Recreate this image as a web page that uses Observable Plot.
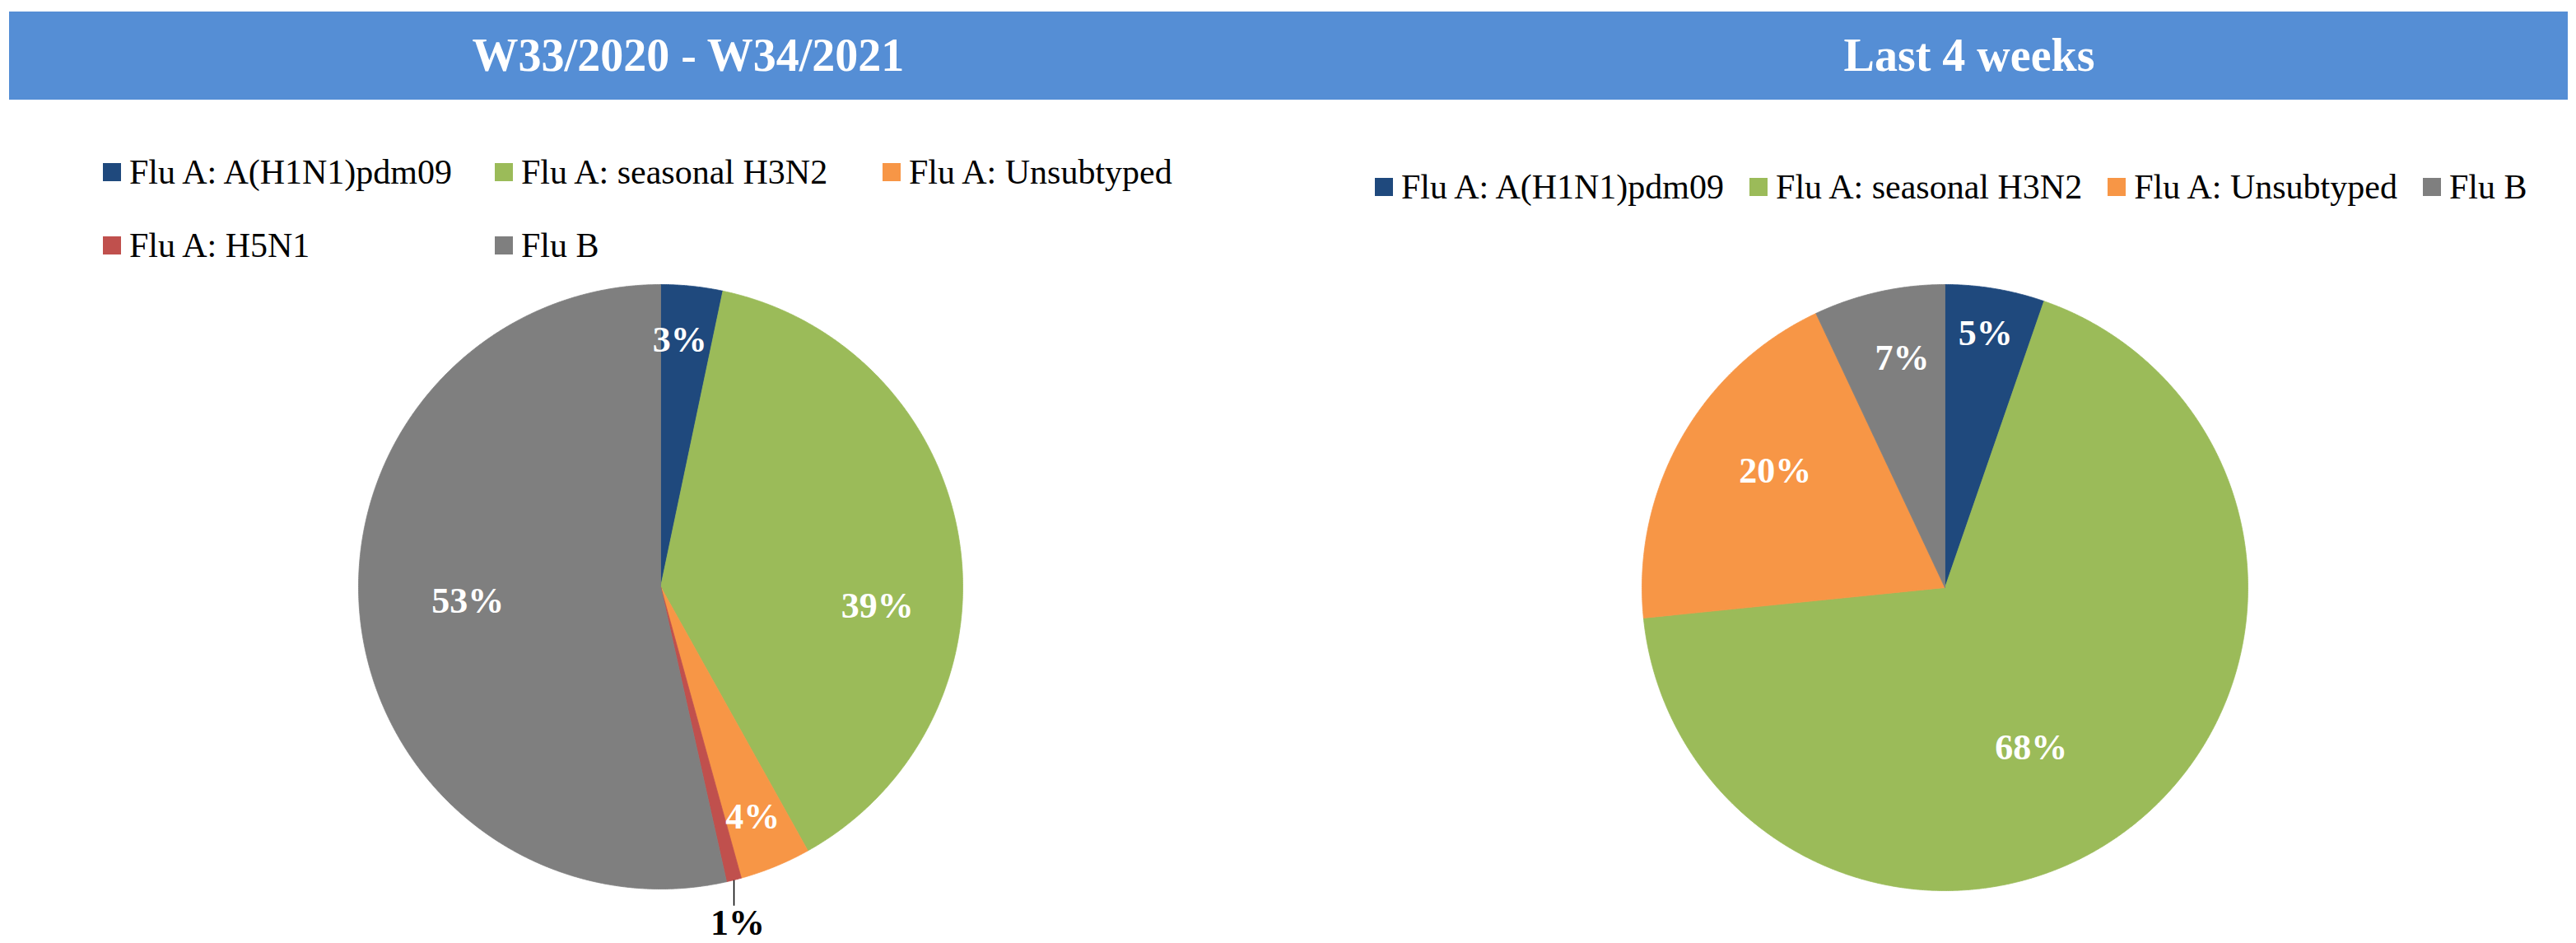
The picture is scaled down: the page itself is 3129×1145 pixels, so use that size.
<!DOCTYPE html>
<html>
<head>
<meta charset="utf-8">
<script src="https://cdn.jsdelivr.net/npm/d3@7"></script>
<script src="https://cdn.jsdelivr.net/npm/@observablehq/plot@0.6"></script>
<style>
  html, body { margin: 0; padding: 0; background: #ffffff; }
  #page { position: relative; width: 3129px; height: 1145px; overflow: hidden; background: #fff;
          font-family: "Liberation Serif", "Times New Roman", serif; }
  .header { position: absolute; left: 11px; top: 14px; width: 3108px; height: 107px; background: #558ED5; }
  .title { position: absolute; top: 39px; height: 56px; line-height: 56px; font-size: 56px; font-weight: bold;
           color: #fff; white-space: nowrap; transform: translateX(-50%); }
  .leg { position: absolute; font-size: 42px; line-height: 42px; height: 42px; color: #000; white-space: nowrap;
         display: flex; align-items: flex-start; }
  .sw { display: inline-block; width: 22px; height: 22px; margin-top: 10px; margin-right: 10px; flex: none; }
  .panel { position: absolute; top: 300px; }
</style>
</head>
<body>
<div id="page">
  <div class="header"></div>
  <div id="titles"></div>
  <div id="legends"></div>
  <div class="panel" id="left" style="left:0px"></div>
  <div class="panel" id="right" style="left:1564px"></div>
</div>
<script>
// ---------- data ----------
const panelTitles = ["W33/2020 - W34/2021", "Last 4 weeks"];

const seasonCategories = ["Flu A: A(H1N1)pdm09", "Flu A: seasonal H3N2", "Flu A: Unsubtyped", "Flu A: H5N1", "Flu B"];
const seasonShares = [3.3, 38.6, 3.8, 0.8, 53.5];
const seasonLabels = ["3%", "39%", "4%", "1%", "53%"];

const last4Categories = ["Flu A: A(H1N1)pdm09", "Flu A: seasonal H3N2", "Flu A: Unsubtyped", "Flu B"];
const last4Shares = [5.3, 68.1, 19.6, 7.0];
const last4Labels = ["5%", "68%", "20%", "7%"];

// ---------- styles / layout ----------
const colorOf = {
  "Flu A: A(H1N1)pdm09": "#1F497D",
  "Flu A: seasonal H3N2": "#9BBB59",
  "Flu A: Unsubtyped": "#F79646",
  "Flu A: H5N1": "#C0504D",
  "Flu B": "#7F7F7F"
};
const allCats = seasonCategories;

// titles
const titleCenters = [836, 2392];
const titlesDiv = document.getElementById("titles");
panelTitles.forEach((t, i) => {
  const d = document.createElement("div");
  d.className = "title";
  d.style.left = titleCenters[i] + "px";
  d.textContent = t;
  titlesDiv.appendChild(d);
});

// legends
const legendsDiv = document.getElementById("legends");
function legendItem(cat, left, top) {
  const d = document.createElement("div");
  d.className = "leg";
  d.style.left = left + "px";
  d.style.top = top + "px";
  const s = document.createElement("span");
  s.className = "sw";
  s.style.background = colorOf[cat];
  const t = document.createElement("span");
  t.textContent = cat;
  d.appendChild(s); d.appendChild(t);
  legendsDiv.appendChild(d);
  return d;
}
// left legend: 3-column grid
const leftCols = [125, 601, 1072], leftRows = [188, 277];
seasonCategories.forEach((c, i) => legendItem(c, leftCols[i % 3], leftRows[Math.floor(i / 3)]));
// right legend: one flowing row
{
  const row = document.createElement("div");
  row.style.cssText = "position:absolute;left:1670px;top:206px;display:flex;gap:31px;";
  legendsDiv.appendChild(row);
  last4Categories.forEach(c => {
    const it = legendItem(c, 0, 0);
    it.style.position = "static";
    row.appendChild(it);
  });
}

// ---------- pies ----------
function piePlot({cats, values, labels, cx, cy, r, width, height, labelR, labelShift, outsideIndex}) {
  const arcs = d3.pie().sort(null).value(d => d)(values);
  const poly = [];
  arcs.forEach((a, i) => {
    const n = Math.max(2, Math.ceil((a.endAngle - a.startAngle) / (Math.PI / 720)));
    poly.push({k: cats[i], x: 0, y: 0});
    for (let j = 0; j <= n; j++) {
      const t = a.startAngle + (a.endAngle - a.startAngle) * j / n;
      poly.push({k: cats[i], x: Math.sin(t), y: Math.cos(t)});
    }
    poly.push({k: cats[i], x: 0, y: 0});
  });
  const inside = [], outside = [], leaders = [];
  arcs.forEach((a, i) => {
    const m = (a.startAngle + a.endAngle) / 2 + (labelShift[i] || 0) * Math.PI / 180;
    if (i === outsideIndex) {
      const ex = Math.sin((a.startAngle + a.endAngle) / 2), ey = Math.cos((a.startAngle + a.endAngle) / 2);
      leaders.push({x1: ex, y1: ey, x2: ex, y2: -1.055});
      outside.push({x: ex + 0.012, y: -1.112, text: labels[i]});
    } else {
      inside.push({x: labelR[i] * Math.sin(m), y: labelR[i] * Math.cos(m), text: labels[i]});
    }
  });
  const font = {fontFamily: "Liberation Serif, Times New Roman, serif", fontWeight: "bold", fontSize: 44};
  return Plot.plot({
    width, height,
    margin: 0,
    style: {background: "transparent", overflow: "visible"},
    x: {domain: [-1, 1], range: [cx - r, cx + r], axis: null},
    y: {domain: [-1, 1], range: [cy + r, cy - r], axis: null},
    color: {domain: allCats, range: allCats.map(c => colorOf[c])},
    marks: [
      Plot.line(poly, {x: "x", y: "y", z: "k", fill: "k", stroke: "k", strokeWidth: 0.8, curve: "linear"}),
      Plot.link(leaders, {x1: "x1", y1: "y1", x2: "x2", y2: "y2", stroke: "#000", strokeWidth: 1.5}),
      Plot.text(inside, {x: "x", y: "y", text: "text", fill: "#fff", ...font}),
      Plot.text(outside, {x: "x", y: "y", text: "text", fill: "#000", ...font})
    ]
  });
}

document.getElementById("left").appendChild(piePlot({
  cats: seasonCategories, values: seasonShares, labels: seasonLabels,
  cx: 802, cy: 412, r: 367, width: 1564, height: 845,
  labelR: [0.82, 0.72, 0.82, 1, 0.64], labelShift: [-1.5, 13.8, 0.5, 0, 2], outsideIndex: 3
}));
document.getElementById("right").appendChild(piePlot({
  cats: last4Categories, values: last4Shares, labels: last4Labels,
  cx: 798, cy: 413, r: 368, width: 1565, height: 845,
  labelR: [0.85, 0.6, 0.68, 0.77], labelShift: [-0.5, 10, 5, 2], outsideIndex: -1
}));
</script>
</body>
</html>
